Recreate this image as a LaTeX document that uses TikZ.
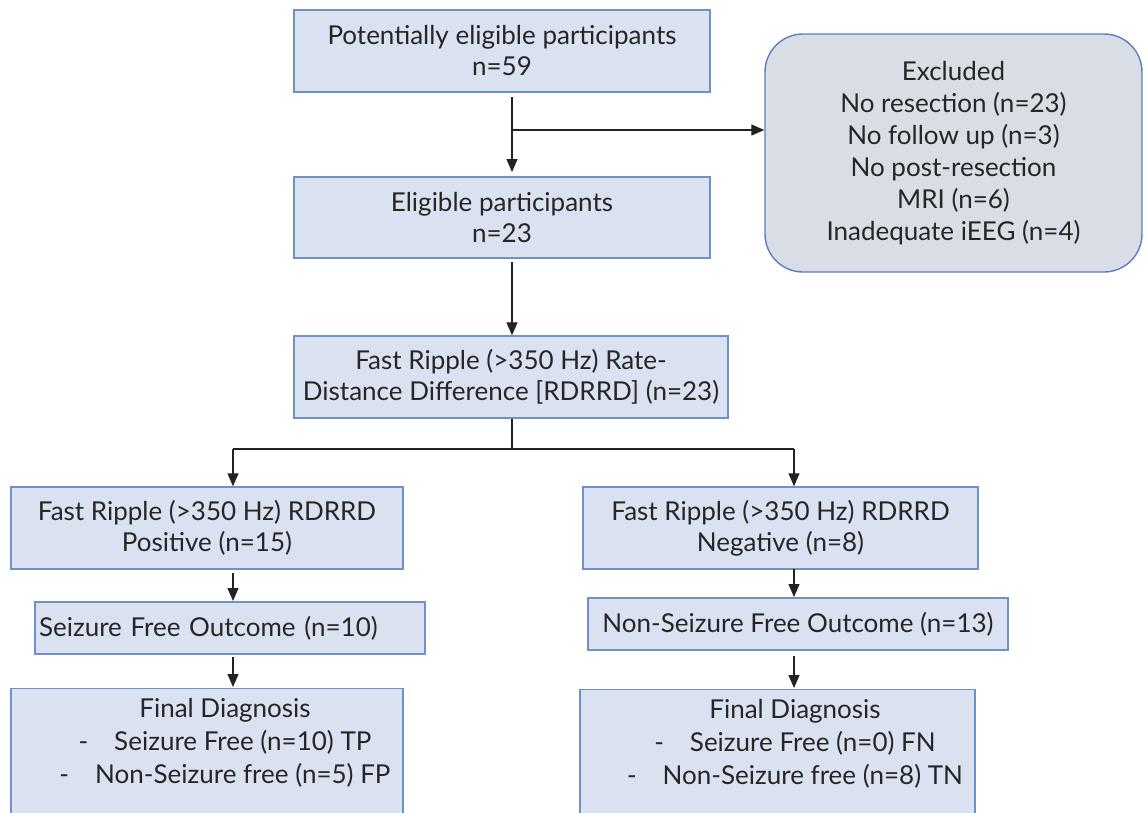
\documentclass[tikz,border=0pt]{standalone}
\usepackage{fontspec}
\setmainfont{Lato}
\usetikzlibrary{arrows.meta}
\definecolor{boxfill}{HTML}{DAE1F0}
\definecolor{boxline}{HTML}{7090C8}
\definecolor{exfill}{HTML}{D9DDE5}
\definecolor{exline}{HTML}{5A7EBF}
\definecolor{arr}{HTML}{222222}
\tikzset{
  x=1pt, y=-1pt,
  box/.style={draw=boxline, fill=boxfill, line width=1.4pt, inner sep=0pt, align=center, font=\fontsize{26}{31}\selectfont, text=black!85},
  boxtext/.style={inner sep=0pt, align=center, font=\fontsize{26}{33}\selectfont, text=black!85},
  conn/.style={draw=arr, line width=1.2pt},
  arrow/.style={conn, -{Triangle[width=11pt,length=13pt]}}
}
\begin{document}
\begin{tikzpicture}
\useasboundingbox (0,0) rectangle (1146,812);
\clip (0,0) rectangle (1146,812);
% top
\node[box, minimum width=416, minimum height=82] (pot) at (502,51) {Potentially eligible participants\\n=59};
\node[box, minimum width=416, minimum height=81] (elig) at (502,217.5) {Eligible participants\\n=23};
\node[box, draw=exline, fill=exfill, rounded corners=38pt, minimum width=377, minimum height=238, font=\fontsize{26}{32}\selectfont] (excl) at (953.5,153) {Excluded\\No resection (n=23)\\No follow up (n=3)\\No post-resection\\MRI (n=6)\\Inadequate iEEG (n=4)};
\node[box, minimum width=434, minimum height=82] (fr) at (511,377) {Fast Ripple (>350 Hz) Rate-\\Distance Difference [RDRRD] (n=23)};
% left branch
\node[box, minimum width=392, minimum height=82] (pos) at (207,528) {Fast Ripple (>350 Hz) RDRRD\\Positive (n=15)};
\node[box, minimum width=390, minimum height=52, text width=382, align=left] (sfo) at (230,628) {Seizure Free Outcome (n=10)};
\node[box, anchor=north, minimum width=392, minimum height=150] (fdl) at (207,688) {};
\node[boxtext, anchor=north] (fdlt) at (225,698) {Final Diagnosis\\-\quad Seizure Free (n=10) TP\\-\quad Non-Seizure free (n=5) FP};
% right branch
\node[box, minimum width=395, minimum height=82] (neg) at (780.5,528) {Fast Ripple (>350 Hz) RDRRD\\Negative (n=8)};
\node[box, minimum width=420, minimum height=52] (nsfo) at (798,624) {Non-Seizure Free Outcome (n=13)};
\node[box, anchor=north, minimum width=395, minimum height=150] (fdr) at (777.5,689) {};
\node[boxtext, anchor=north] (fdrt) at (795,699) {Final Diagnosis\\-\quad Seizure Free (n=0) FN\\-\quad Non-Seizure free (n=8) TN};
% connectors
\coordinate (j1) at (512,130);
\draw[arrow] (512,97) -- (512,172);
\draw[arrow] (j1) -- (excl.west |- j1);
\draw[arrow] (512,262) -- (fr.north -| 512,0);
\coordinate (j2) at (512,449);
\coordinate (jl) at (233,449);
\coordinate (jr) at (794,449);
\draw[conn] (fr.south -| j2) -- (j2);
\draw[conn] (jl) -- (jr);
\draw[arrow] (jl) -- (jl |- pos.north);
\draw[arrow] (jr) -- (jr |- neg.north);
\draw[arrow] (233,573) -- (233,601);
\draw[arrow] (233,657) -- (233,687);
\draw[arrow] (794,569) -- (794,597);
\draw[arrow] (794,656) -- (794,688);
\end{tikzpicture}
\end{document}
